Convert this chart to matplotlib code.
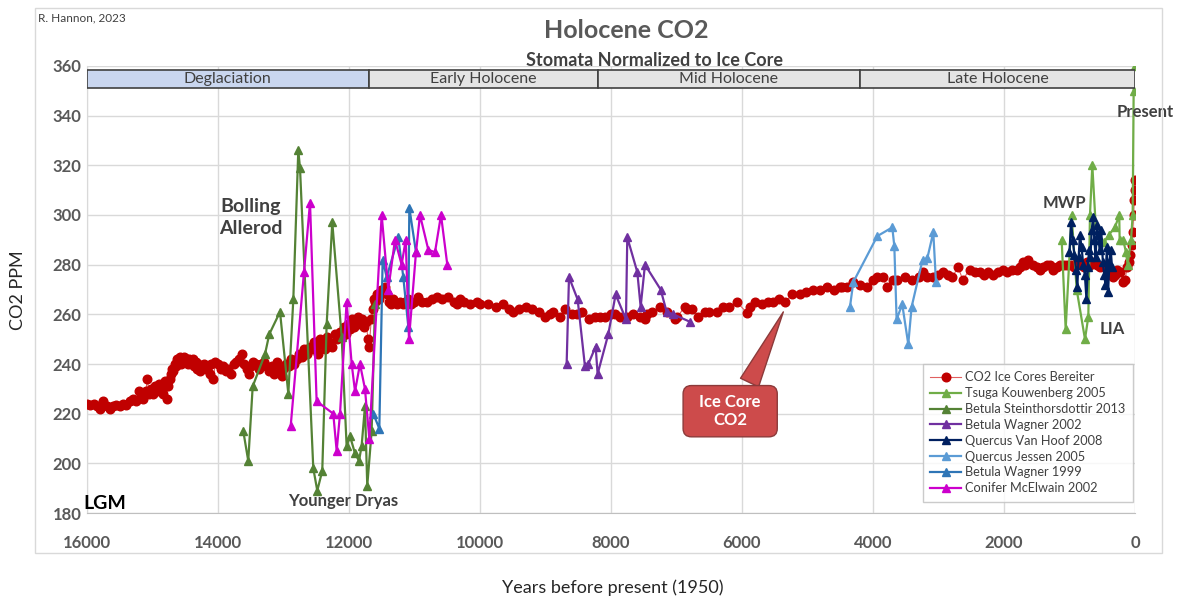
import matplotlib
matplotlib.use("Agg")
import matplotlib.pyplot as plt
from matplotlib.patches import Rectangle

plt.rcParams['font.family'] = ['Lato', 'DejaVu Sans']

# ice core CO2 (Bereiter) - years before 1950, ppm
ice_year = [16000, 15950, 15900, 15850, 15800, 15750, 15700, 15650, 15600, 15550, 15500, 15450,
            15400, 15350, 15300, 15250, 15200, 15170, 15140, 15100, 15080, 15050, 15020, 14990,
            14960, 14930, 14900, 14870, 14840, 14810, 14780, 14760, 14740, 14720, 14700, 14680,
            14660, 14640, 14620, 14600, 14580, 14560, 14540, 14520, 14500, 14480, 14460, 14440,
            14420, 14400, 14380, 14360, 14340, 14320, 14300, 14280, 14250, 14220, 14190, 14150,
            14120, 14100, 14070, 14040, 14000, 13960, 13920, 13880, 13840, 13800, 13760, 13720,
            13680, 13640, 13600, 13560, 13530, 13500, 13460, 13420, 13380, 13340, 13300, 13260,
            13220, 13180, 13140, 13100, 13060, 13030, 13000, 12960, 12920, 12880, 12840, 12800,
            12760, 12720, 12680, 12640, 12600, 12570, 12540, 12500, 12470, 12440, 12400, 12370,
            12340, 12300, 12260, 12220, 12190, 12160, 12130, 12100, 12070, 12040, 12010, 11980,
            11950, 11920, 11890, 11860, 11830, 11800, 11770, 11740, 11710, 11690, 11660, 11640,
            11620, 11600, 11570, 11540, 11510, 11480, 11450, 11420, 11390, 11360, 11330, 11300,
            11260, 11220, 11180, 11140, 11100, 11050, 11000, 10950, 10880, 10810, 10740, 10660,
            10580, 10490, 10400, 10350, 10300, 10240, 10150, 10050, 10000, 9880, 9750, 9650,
            9560, 9500, 9400, 9300, 9200, 9100, 9010, 8930, 8880, 8780, 8700, 8600, 8520, 8440,
            8340, 8250, 8170, 8090, 8000, 7940, 7860, 7760, 7660, 7560, 7480, 7450, 7370, 7250,
            7150, 7020, 6990, 6870, 6840, 6760, 6670, 6560, 6500, 6380, 6290, 6200, 6080, 5920,
            5880, 5800, 5700, 5600, 5530, 5430, 5340, 5230, 5120, 5020, 4920, 4810, 4700, 4600,
            4500, 4470, 4400, 4300, 4200, 4090, 4000, 3940, 3850, 3790, 3700, 3630, 3510, 3400,
            3300, 3240, 3170, 3080, 3000, 2930, 2860, 2790, 2700, 2630, 2520, 2440, 2370, 2300,
            2240, 2170, 2090, 2020, 1950, 1880, 1800, 1750, 1710, 1680, 1630, 1560, 1500, 1450,
            1400, 1350, 1300, 1250, 1190, 1140, 1080, 1040, 980, 930, 880, 830, 780, 730, 680,
            630, 580, 530, 480, 430, 380, 340, 300, 270, 230, 180, 150, 120, 90, 70, 50, 35, 20,
            10, 5, 0]
ice_ppm = [224, 223.5, 224, 223, 222, 225, 223, 222, 223, 223.5, 223, 224,
           223.5, 225, 226, 225, 229, 227, 226, 229, 234, 228, 230, 228,
           231, 229, 232, 230, 228, 233, 226, 231, 234, 236, 238, 237,
           240, 239, 242, 241, 243, 240, 242, 243, 241, 242, 240, 242,
           241, 240, 242, 239, 241, 238, 240, 237, 239, 240, 238, 239,
           236, 240, 234, 241, 240, 238, 239, 237, 238, 236, 240, 241,
           242, 244, 240, 238, 236, 239, 241, 240, 238, 240, 241, 239,
           237, 239, 236, 241, 238, 235, 238, 240, 239, 242, 240, 242,
           244, 243, 246, 244, 247, 246, 249, 247, 244, 250, 248, 246,
           251, 249, 247, 252, 250, 252, 253, 251, 255, 252, 256, 254,
           258, 255, 257, 259, 256, 258, 255, 257, 250, 247, 258, 262,
           266, 265, 268, 266, 270, 269, 271, 268, 265, 264, 266, 265,
           264, 265, 264, 265, 266, 264, 265, 267, 265, 265, 266, 267,
           266, 267, 265, 264, 266, 265, 264, 265, 264, 264, 263, 264,
           262, 261, 262, 263, 262, 261, 259, 260, 261, 259, 262, 260, 260, 261,
           258, 259, 259, 259, 260, 260, 259, 259, 260, 259, 258, 260, 261, 263,
           261, 258, 259, 263, 262, 262, 259, 261, 261, 261, 263, 263, 265, 260.5,
           263, 265, 264, 265, 265, 266, 265, 268, 268, 269, 270, 270, 271, 270,
           271, 271, 271, 273, 272, 271, 274, 275, 275, 271, 274, 274, 275, 274,
           275, 277, 275, 275, 276, 277, 276, 275, 279, 274, 278, 277, 277, 276,
           277, 276, 277, 278, 277, 278, 278, 279, 281, 280, 282, 280, 279, 278,
           279, 280, 280, 278, 279, 280, 280, 280, 280, 279, 281, 280, 279, 281, 280,
           281, 280, 279, 280, 279, 278, 275, 276, 278, 277, 273, 274, 279, 281, 284, 288, 293, 300,
           306, 310, 314]

# stomata reconstructions
tsuga_year = [1119, 1058, 967, 890, 763, 712, 687, 651, 600, 540, 470, 400, 305, 240, 234,
              180, 137, 112, 60, 35, 20, 5]
tsuga_ppm = [290, 254, 300, 270, 250, 259, 300, 320, 296, 290, 289, 292, 295, 300, 290,
             290, 285, 280, 290, 300, 350, 360]

stein_year = [13614, 13538, 13470, 13282, 13217, 13053, 12926, 12850, 12774, 12748, 12545,
              12484, 12408, 12341, 12255, 12112, 12036, 11985, 11908, 11847, 11807, 11756,
              11721, 11654, 11603]
stein_ppm = [213, 201, 231, 244, 252, 261, 228, 266, 326, 319, 198, 189, 197, 256, 297, 251,
             207, 211, 204, 201, 207, 223, 191, 213, 264]

wagner02_year = [8677, 8641, 8509, 8397, 8346, 8234, 8204, 8041, 7929, 7771, 7751, 7598,
                 7547, 7481, 7242, 7150, 7049, 6794]
wagner02_ppm = [240, 275, 266, 239, 240, 247, 236, 252, 268, 258, 291, 277, 263, 280, 270,
                261, 260, 257]

vanhoof_year = [1000, 975, 950, 925, 900, 880, 860, 840, 815, 790, 765, 740, 720, 700, 680,
                660, 640, 620, 600, 580, 560, 540, 515, 490, 470, 450, 430, 410, 390, 370, 350]
vanhoof_ppm = [285, 297, 290, 284, 278, 271, 283, 292, 287, 280, 276, 266, 279, 286, 283,
               294, 299, 290, 283, 296, 292, 286, 294, 281, 276, 272, 287, 269, 281, 286, 279]

jessen_year = [4351, 4300, 3934, 3705, 3674, 3639, 3553, 3461, 3410, 3242, 3171, 3079, 3038]
jessen_ppm = [263, 273, 291.5, 295, 287.5, 258, 264, 248, 263, 282, 282.5, 293, 273]

wagner99_year = [11629, 11537, 11486, 11425, 11247, 11171, 11094, 11079, 10977]
wagner99_ppm = [220, 214, 282, 275, 291, 275, 255, 303, 285]

mcelwain_year = [12890, 12687, 12595, 12494, 12240, 12188, 12137, 12036, 11959, 11908, 11832,
                 11756, 11690, 11501, 11400, 11298, 11196, 11134, 11084, 10977, 10916, 10789,
                 10687, 10595, 10499]
mcelwain_ppm = [215, 277, 305, 225, 220, 205, 220, 265, 240, 229, 240, 230, 210, 300, 270,
                290, 280, 290, 250, 285, 300, 286, 285, 300, 280]

# periods
period_names = ["Deglaciation", "Early Holocene", "Mid Holocene", "Late Holocene"]
period_start = [16000, 11700, 8200, 4200]
period_end = [11700, 8200, 4200, 0]
period_colors = ["#c9d6ef", "#e4e4e4", "#e4e4e4", "#e4e4e4"]

fig = plt.figure(figsize=(11.82, 6.01), dpi=100)
ax = fig.add_axes([0.0736, 0.1464, 0.8866, 0.7438])

# chart frame
fig.patches.append(Rectangle((0.0296, 0.08), 0.9535, 0.907, transform=fig.transFigure,
                             fill=False, ec="#d9d9d9", lw=1))

ax.plot(ice_year, ice_ppm, '-o', color='#e06060', lw=0.8, ms=6.2,
        mfc='#c00000', mec='#c00000', label='CO2 Ice Cores Bereiter', zorder=3)

series = [
    (tsuga_year, tsuga_ppm, '#70ad47', 'Tsuga Kouwenberg 2005'),
    (stein_year, stein_ppm, '#548235', 'Betula Steinthorsdottir 2013'),
    (wagner02_year, wagner02_ppm, '#7030a0', 'Betula Wagner 2002'),
    (vanhoof_year, vanhoof_ppm, '#002060', 'Quercus Van Hoof 2008'),
    (jessen_year, jessen_ppm, '#5b9bd5', 'Quercus Jessen 2005'),
    (wagner99_year, wagner99_ppm, '#2e75b6', 'Betula Wagner 1999'),
    (mcelwain_year, mcelwain_ppm, '#cc00cc', 'Conifer McElwain 2002'),
]
for yr, val, col, lab in series:
    ax.plot(yr, val, '-^', color=col, lw=1.6, ms=6, label=lab, zorder=4)

# period bars
for name, s, e, c in zip(period_names, period_start, period_end, period_colors):
    ax.barh(354.7, s - e, left=e, height=7.3, color=c, edgecolor='#404040', lw=1.2, zorder=5)
    ax.text((s + e) / 2, 354.9, name, ha='center', va='center', fontsize=11.5,
            color='#404040', zorder=6)

ax.set_xlim(16000, 0)
ax.set_ylim(180, 360)
ax.set_xticks(range(16000, -1, -2000))
ax.set_yticks(range(180, 361, 20))
ax.tick_params(length=0, labelsize=12, labelcolor='#595959')
ax.tick_params(axis='x', pad=16)
ax.tick_params(axis='y', pad=4)
for lbl in ax.get_xticklabels() + ax.get_yticklabels():
    lbl.set_fontweight('bold')
ax.grid(color='#d9d9d9', lw=1)
ax.set_axisbelow(True)
for sp in ['top', 'right']:
    ax.spines[sp].set_visible(False)
ax.spines['left'].set_color('#d9d9d9')
ax.spines['bottom'].set_color('#bfbfbf')

# annotations
ax.text(13500, 299, "Bolling\nAllerod", ha='center', va='center', fontsize=14,
        fontweight='bold', color='#404040', linespacing=1.3)
ax.text(12090, 185, "Younger Dryas", ha='center', va='center', fontsize=12,
        fontweight='bold', color='#404040')
ax.text(16060, 184, "LGM", ha='left', va='center', fontsize=14, fontweight='bold',
        color='black', clip_on=False)
ax.text(1070, 305, "MWP", ha='center', va='center', fontsize=12, fontweight='bold',
        color='#404040')
ax.text(340, 254, "LIA", ha='center', va='center', fontsize=12, fontweight='bold',
        color='#404040')
ax.text(-150, 341.5, "Present", ha='center', va='center', fontsize=12, fontweight='bold',
        color='#404040', clip_on=False, zorder=7)
ax.annotate("  Ice Core  \nCO2", xy=(5350, 262), xytext=(6180, 221),
            ha='center', va='center', fontsize=12, fontweight='bold', color='white',
            bbox=dict(boxstyle='round,pad=0.5', fc='#cd4b4b', ec='#8c3a3a', lw=1),
            arrowprops=dict(arrowstyle='wedge,tail_width=1.2', fc='#cd4b4b', ec='#8c3a3a',
                            lw=1, relpos=(0.68, 1.0)), zorder=8)

leg = ax.legend(loc='lower right', bbox_to_anchor=(0.998, 0.025), fontsize=9.2,
                frameon=True, fancybox=False, edgecolor='#bfbfbf', handlelength=2.4,
                labelspacing=0.3, borderpad=0.6, handletextpad=0.3, borderaxespad=0)
for t in leg.get_texts():
    t.set_color('#404040')
leg.set_zorder(9)

fig.text(0.53, 0.950, "Holocene CO2", ha='center', va='center', fontsize=18,
         fontweight='bold', color='#595959')
fig.text(0.554, 0.900, "Stomata Normalized to Ice Core", ha='center', va='center',
         fontsize=13, fontweight='bold', color='#404040')
fig.text(0.032, 0.970, "R. Hannon, 2023", ha='left', va='center', fontsize=8.5,
         color='#404040')
fig.text(0.015, 0.517, "CO2 PPM", ha='center', va='center', rotation=90, fontsize=13,
         color='#262626')
fig.text(0.518, 0.022, "Years before present (1950)", ha='center', va='center',
         fontsize=13, color='#262626')

fig.savefig("out.png", dpi=100)
